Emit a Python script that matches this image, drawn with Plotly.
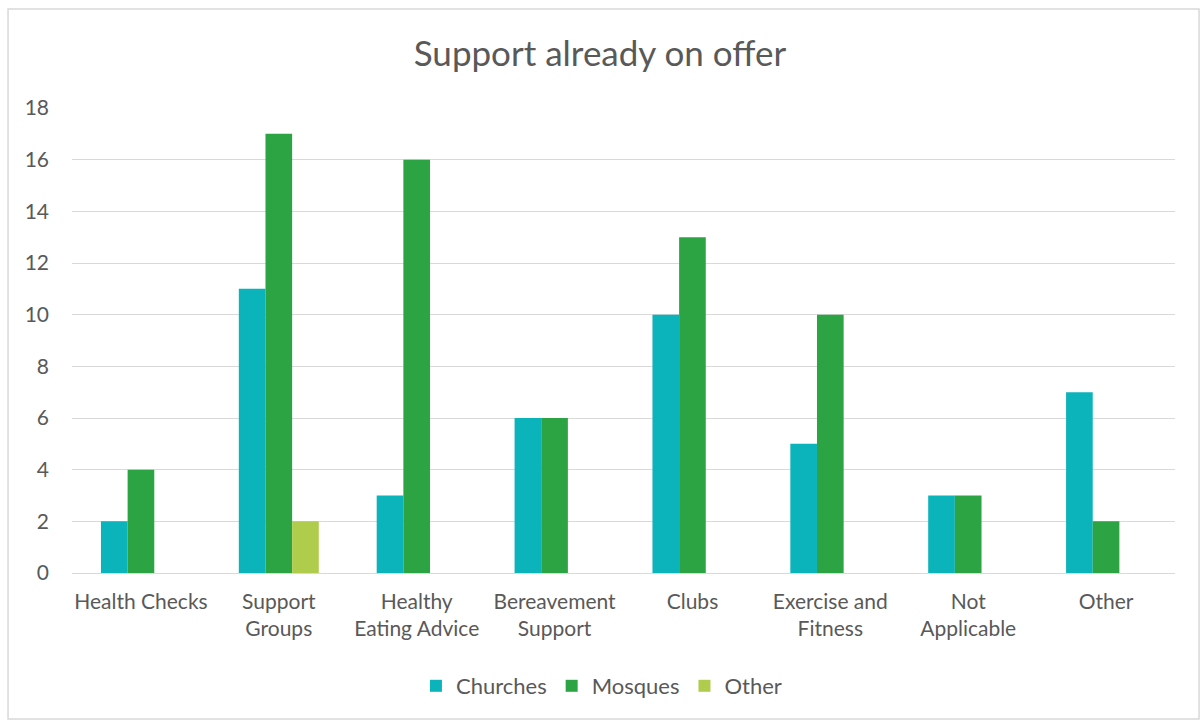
import plotly.graph_objects as go

categories = ["Health Checks", "Support<br>Groups", "Healthy<br>Eating Advice", "Bereavement<br>Support",
              "Clubs", "Exercise and<br>Fitness", "Not<br>Applicable", "Other"]
churches = [2, 11, 3, 6, 10, 5, 3, 7]
mosques = [4, 17, 16, 6, 13, 10, 3, 2]
other = [0, 2, 0, 0, 0, 0, 0, 0]
y_ticks = [0, 2, 4, 6, 8, 10, 12, 14, 16, 18]

font_family = "Lato, 'Open Sans', sans-serif"
text_color = "#595959"

fig = go.Figure()
for name, vals, color in [("Churches", churches, "#0BB3BA"),
                          ("Mosques", mosques, "#2CA444"),
                          ("Other", other, "#B0CC4C")]:
    fig.add_trace(go.Bar(x=categories, y=vals, name=name, marker_color=color,
                         marker_line_width=0))

fig.update_layout(
    width=1200, height=720,
    barmode="group", bargap=0.42, bargroupgap=0,
    plot_bgcolor="white", paper_bgcolor="white",
    margin=dict(l=72, r=25, t=108, b=147),
    font=dict(family=font_family, color=text_color, size=21),
    title=dict(text="Support already on offer", x=0.5, xanchor="center",
               y=0.926, yanchor="middle", font=dict(size=35, color=text_color)),
    legend=dict(orientation="h", x=0.48, xanchor="center", y=-0.243, yanchor="middle",
                font=dict(size=22), itemwidth=30, traceorder="normal"),
    xaxis=dict(showgrid=False, showline=False, ticks="", tickangle=0,
               tickfont=dict(size=21), ticklabelstandoff=14),
    yaxis=dict(range=[0, 18], tickvals=y_ticks, showgrid=True, gridcolor="#D9D9D9",
               gridwidth=1.3, zeroline=True, zerolinecolor="#D9D9D9", zerolinewidth=1.3,
               ticks="", tickfont=dict(size=21), ticklabelstandoff=22),
    shapes=[dict(type="rect", xref="paper", yref="paper",
                 x0=-0.058, x1=1.0218, y0=-0.314, y1=1.2129,
                 line=dict(color="#D9D9D9", width=1.5), layer="below")],
)

fig.write_html("out.html")
